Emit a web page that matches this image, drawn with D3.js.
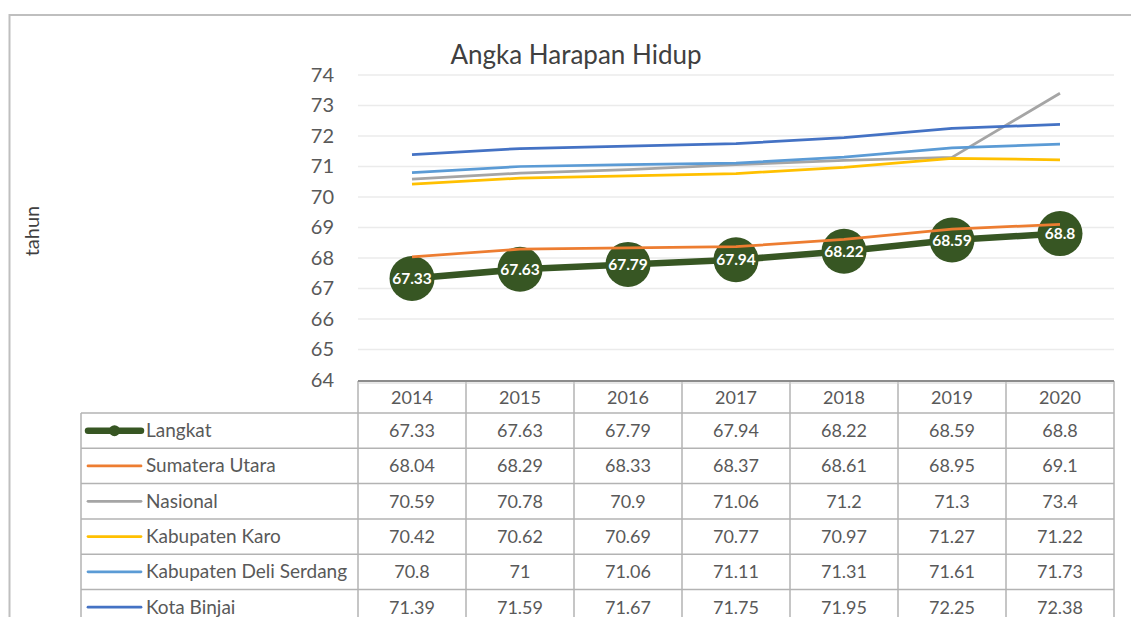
<!DOCTYPE html>
<html><head><meta charset="utf-8">
<script src="https://cdn.jsdelivr.net/npm/d3@7"></script>
<style>body{margin:0;background:#fff;}svg{display:block;font-family:Lato,"Open Sans",sans-serif;}</style>
</head><body>
<svg id="c" width="1131" height="617"></svg>
<script>
const years = ["2014","2015","2016","2017","2018","2019","2020"];
const seriesNames = ["Langkat","Sumatera Utara","Nasional","Kabupaten Karo","Kabupaten Deli Serdang","Kota Binjai"];
const langkat = [67.33,67.63,67.79,67.94,68.22,68.59,68.8];
const sumut = [68.04,68.29,68.33,68.37,68.61,68.95,69.1];
const nasional = [70.59,70.78,70.9,71.06,71.2,71.3,73.4];
const karo = [70.42,70.62,70.69,70.77,70.97,71.27,71.22];
const deliSerdang = [70.8,71,71.06,71.11,71.31,71.61,71.73];
const binjai = [71.39,71.59,71.67,71.75,71.95,72.25,72.38];
const yTicks = [64,65,66,67,68,69,70,71,72,73,74];
const colors = ["#375623","#ED7D31","#A5A5A5","#FFC000","#5B9BD5","#4472C4"];

const allSeries = [langkat,sumut,nasional,karo,deliSerdang,binjai];
const svg = d3.select("#c");

// outer frame
svg.append("rect").attr("x",9.5).attr("y",15).attr("width",1140).attr("height",640)
  .attr("fill","none").attr("stroke","#bfbfbf").attr("stroke-width",2);

const x = d3.scaleBand().domain(years).range([358,1114]);
const y = d3.scaleLinear().domain([64,74]).range([380,75]);

// gridlines
svg.append("g").selectAll("line").data(yTicks.slice(1)).join("line")
  .attr("x1",358).attr("x2",1114).attr("y1",d=>y(d)).attr("y2",d=>y(d))
  .attr("stroke","#ebebeb").attr("stroke-width",1.5);

// y axis labels
const yAxis = d3.axisLeft(y).tickValues(yTicks).tickSize(0).tickPadding(24).tickFormat(d3.format("d"));
const ya = svg.append("g").attr("transform","translate(358,0)").call(yAxis);
ya.select(".domain").remove();
ya.selectAll("text").attr("font-size",20).attr("fill","#595959").attr("font-family","Lato");

// title
svg.append("text").attr("x",576).attr("y",64).attr("text-anchor","middle")
  .attr("font-size",26).attr("fill","#404040").text("Angka Harapan Hidup");

// y axis title
svg.append("text").attr("transform","translate(39,231) rotate(-90)").attr("text-anchor","middle")
  .attr("font-size",20).attr("fill","#404040").text("tahun");

const line = d3.line().x((d,i)=>x(years[i])+x.bandwidth()/2).y(d=>y(d));

// Langkat first
svg.append("path").datum(langkat).attr("d",line).attr("fill","none")
  .attr("stroke",colors[0]).attr("stroke-width",6.5).attr("stroke-linejoin","round").attr("stroke-linecap","round");
svg.append("g").selectAll("circle").data(langkat).join("circle")
  .attr("cx",(d,i)=>x(years[i])+x.bandwidth()/2).attr("cy",d=>y(d)).attr("r",22.5).attr("fill",colors[0]);

// other series
allSeries.slice(1).forEach((s,k)=>{
  svg.append("path").datum(s).attr("d",line).attr("fill","none")
    .attr("stroke",colors[k+1]).attr("stroke-width",2.75).attr("stroke-linejoin","round");
});

// data labels
svg.append("g").selectAll("text").data(langkat).join("text")
  .attr("x",(d,i)=>x(years[i])+x.bandwidth()/2).attr("y",d=>y(d)+5.5)
  .attr("text-anchor","middle").attr("font-size",15.5).attr("font-weight","bold").attr("fill","#fff")
  .text(d=>d);

// data table
const tableLeft = 81, tableRight = 1114;
const headerTop = 381, headerBottom = 413, rowH = 35.3;
const rowY = i => headerBottom + i*rowH;
const g = svg.append("g");
const bc = "#b3b3b3";
years.forEach((yr,i)=>{
  g.append("line").attr("x1",x(yr)).attr("x2",x(yr)).attr("y1",headerTop).attr("y2",rowY(seriesNames.length))
    .attr("stroke",bc).attr("stroke-width",1.5);
});
g.append("line").attr("x1",tableRight).attr("x2",tableRight).attr("y1",headerTop).attr("y2",rowY(seriesNames.length))
  .attr("stroke",bc).attr("stroke-width",1.5);
g.append("line").attr("x1",tableLeft).attr("x2",tableLeft).attr("y1",headerBottom).attr("y2",rowY(seriesNames.length))
  .attr("stroke",bc).attr("stroke-width",1.5);
for(let i=0;i<=seriesNames.length;i++){
  g.append("line").attr("x1",tableLeft).attr("x2",tableRight).attr("y1",rowY(i)).attr("y2",rowY(i))
    .attr("stroke",bc).attr("stroke-width",1.5);
}
g.append("line").attr("x1",358).attr("x2",tableRight).attr("y1",headerTop).attr("y2",headerTop)
  .attr("stroke","#8c8c8c").attr("stroke-width",2.2);
g.append("line").attr("x1",358).attr("x2",tableRight).attr("y1",headerTop+2).attr("y2",headerTop+2)
  .attr("stroke","#d0d0d0").attr("stroke-width",1);

g.selectAll("text.h").data(years).join("text").attr("class","h")
  .attr("x",d=>x(d)+x.bandwidth()/2).attr("y",(headerTop+headerBottom)/2+6.5)
  .attr("text-anchor","middle").attr("font-size",18).attr("fill","#595959").text(d=>d);

seriesNames.forEach((name,r)=>{
  const cy = rowY(r)+rowH/2;
  const lw = r===0 ? 6.5 : 2.75;
  g.append("line").attr("x1",88).attr("x2",141).attr("y1",cy).attr("y2",cy)
    .attr("stroke",colors[r]).attr("stroke-width",lw).attr("stroke-linecap","round");
  if(r===0) g.append("circle").attr("cx",114.5).attr("cy",cy).attr("r",5.5).attr("fill",colors[0]);
  g.append("text").attr("x",146).attr("y",cy+6.5).attr("font-size",19).attr("fill","#595959").text(name);
  allSeries[r].forEach((v,i)=>{
    g.append("text").attr("x",x(years[i])+x.bandwidth()/2).attr("y",cy+6.5)
      .attr("text-anchor","middle").attr("font-size",18).attr("fill","#595959").text(v);
  });
});
</script>
</body></html>
